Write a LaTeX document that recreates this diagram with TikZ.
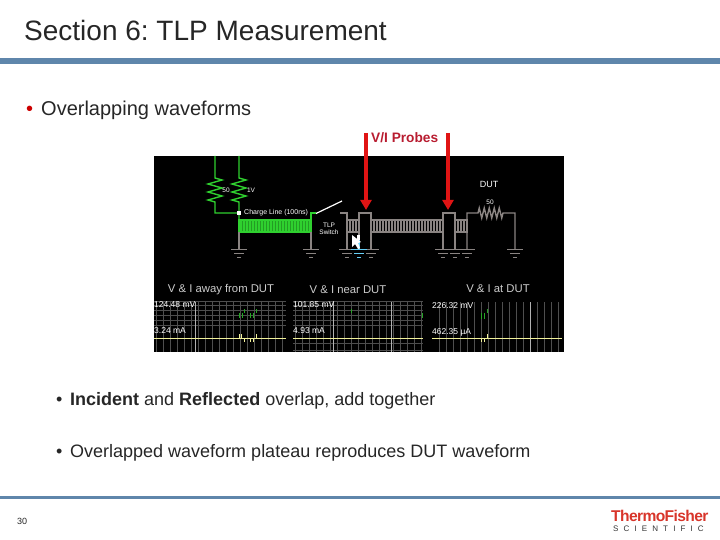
\documentclass[tikz,border=0pt]{standalone}
\usepackage{fontspec}
\setmainfont{Liberation Sans}
\usetikzlibrary{arrows.meta,decorations.pathmorphing}
\frenchspacing
\definecolor{rulecol}{HTML}{5F86AB}
\definecolor{probered}{HTML}{B81C30}
\definecolor{arrowred}{HTML}{E01414}
\definecolor{wavegreen}{HTML}{2FD02F}
\definecolor{wiregray}{HTML}{8A8482}
\definecolor{waveyellow}{HTML}{F0F09A}
\definecolor{gridgray}{HTML}{4E4E4E}
\definecolor{tfred}{HTML}{D8352A}
\tikzset{
  slidetext/.style={anchor=base west, inner sep=0pt, text=black!85},
  scopetext/.style={anchor=base west, inner sep=0pt, text=white, font=\fontsize{8.5}{9}\selectfont},
  circuittext/.style={inner sep=0pt, text=white, align=center, font=\fontsize{6.5}{7.5}\selectfont},
  paneltitle/.style={inner sep=0pt, text=black!20, font=\fontsize{11.3}{12}\selectfont},
  greenwire/.style={draw=wavegreen, line width=1.4pt},
  graywire/.style={draw=wiregray, line width=1.4pt},
  gridline/.style={draw=gridgray, line width=0.8pt},
  brightline/.style={draw=black!30, line width=1pt},
  yellowline/.style={draw=waveyellow, line width=1pt},
  greenmark/.style={draw=wavegreen!80!black, line width=1pt},
  probe/.style={draw=arrowred, line width=3.6pt, -{Triangle[length=10pt,width=11pt]}},
  pics/ground/.default=wiregray,
  pics/ground/.style={code={
    \draw[draw=#1, line width=1pt] (-8,0) -- (8,0);
    \draw[draw=#1, line width=0.9pt] (-5,4) -- (5,4);
    \draw[draw=#1, line width=1pt] (-2,8) -- (2,8);
  }}
}
\begin{document}
\begin{tikzpicture}[x=1pt,y=-1pt]
  \useasboundingbox (0,0) rectangle (720,540);
  \node[slidetext, font=\fontsize{28}{30}\selectfont] (title) at (24,41) {Section 6: TLP Measurement};
  \fill[rulecol] (0,58) rectangle (720,64);
  \fill[rulecol] (0,495.5) rectangle (720,498.5);

  \node[slidetext, text=red!80!black, font=\fontsize{20}{22}\selectfont] (bullet0) at (26,116) {•};
  \node[slidetext, font=\fontsize{20}{22}\selectfont] (overlap) at (41,116) {Overlapping waveforms};
  \node[slidetext, font=\fontsize{18}{20}\selectfont] (bullet1) at (56,405) {•};
  \node[slidetext, font=\fontsize{18}{20}\selectfont] (incident) at (70,405) {\textbf{Incident} and \textbf{Reflected} overlap, add together};
  \node[slidetext, font=\fontsize{18}{20}\selectfont] (bullet2) at (56,457) {•};
  \node[slidetext, font=\fontsize{18}{20}\selectfont] (plateau) at (70,457) {Overlapped waveform plateau reproduces DUT waveform};
  \node[slidetext, font=\fontsize{9}{10}\selectfont] (pagenum) at (17,524) {30};

  \fill[black] (154,156) rectangle (564,352);

  \fill[wavegreen!75!black] (239,220) rectangle (311,232);
  \foreach \x in {241,244,...,310} \draw[wavegreen, line width=1.6pt] (\x,220) -- (\x,232);
  \draw[greenwire] (239,220) rectangle (311,232);
  \foreach \x in {350,353,356} \draw[wiregray, line width=1.5pt] (\x,220) -- (\x,232);
  \draw[graywire] (347,220) rectangle (359,232);
  \foreach \x in {374,377,...,442} \draw[wiregray, line width=1.5pt] (\x,220) -- (\x,232);
  \draw[graywire] (371,220) rectangle (443,232);
  \foreach \x in {458,461,464} \draw[wiregray, line width=1.5pt] (\x,220) -- (\x,232);
  \draw[graywire] (455,220) rectangle (467,232);

  \draw[greenwire] (215,156) -- (215,178) decorate[decoration={zigzag,segment length=8pt,amplitude=7pt}] {-- (215,202)} -- (215,213) -- (239,213);
  \draw[greenwire] (239,156) -- (239,178) decorate[decoration={zigzag,segment length=8pt,amplitude=7pt}] {-- (239,202)} -- (239,220);
  \draw[greenwire] (311,220) -- (311,213) -- (316,213);
  \draw[white, line width=1.2pt] (316,213.5) -- (342,201);
  \fill[white] (237,211) rectangle (241,215);

  \draw[graywire] (340,213) -- (347,213) -- (347,220);
  \draw[graywire] (359,249) -- (359,213) -- (371,213) -- (371,249);
  \draw[graywire] (443,249) -- (443,213) -- (455,213) -- (455,249);
  \draw[graywire] (467,249) -- (467,213) -- (478,213)
    decorate[decoration={zigzag,segment length=5pt,amplitude=5pt}] {-- (504,213)} -- (515,213) -- (515,249);
  \draw[graywire] (239,232) -- (239,249);
  \draw[graywire] (311,232) -- (311,249);
  \draw[graywire] (347,232) -- (347,249);
  \foreach \x in {239,311,347,371,443,455,467,515} \pic at (\x,249) {ground};
  \pic at (359,249) {ground={cyan!60!white}};
  \draw[cyan!60!white, line width=1.4pt] (359,238) -- (359,249);
  \fill[white] (352,235) -- (352,247) -- (355,244) -- (358,249) -- (360,248) -- (358,243) -- (361,242) -- cycle;
  \fill[white] (357,235) rectangle (360,240);

  \node[circuittext] (r50) at (226,190) {50};
  \node[circuittext] (v1) at (251,190) {1V};
  \node[circuittext, anchor=west, font=\fontsize{7}{8}\selectfont] (chargeline) at (244,213) {Charge Line (100ns)};
  \node[circuittext] (tlpswitch) at (329,229) {TLP\\Switch};
  \node[circuittext, font=\fontsize{9}{10}\selectfont] (dut) at (489,184) {DUT};
  \node[circuittext] (rdut) at (490,202) {50};

  \foreach \x in {156.5,163.5,...,286} \draw[gridline] (\x,302) -- (\x,352);
  \foreach \x in {295.5,302.5,...,423} \draw[gridline] (\x,302) -- (\x,352);
  \foreach \x in {439.5,446.5,...,562} \draw[gridline] (\x,302) -- (\x,352);
  \foreach \y in {301.5,305.5,310.5,315.5,320.5,325.5} {
    \draw[gridline] (154,\y) -- (286,\y);
    \draw[gridline] (293,\y) -- (423,\y);
  }
  \foreach \y in {343.5,350.5} \draw[gridline] (293,\y) -- (423,\y);
  \foreach \x in {195.5,333.5,391.5,530.5} \draw[brightline] (\x,302) -- (\x,352);
  \draw[yellowline] (154,338.5) -- (286,338.5);
  \draw[yellowline] (293,338.5) -- (423,338.5);
  \draw[yellowline] (432,338.5) -- (562,338.5);
  \foreach \x in {239.5,242.5,250.5,253.5} \draw[greenmark] (\x,313) -- (\x,318);
  \foreach \x in {244.5,256.5} \draw[greenmark] (\x,309) -- (\x,313);
  \foreach \x in {239.5,241.5,256.5} \draw[yellowline] (\x,334) -- (\x,338);
  \foreach \x in {244.5,250.5,253.5} \draw[yellowline] (\x,338) -- (\x,342);
  \draw[greenmark] (351.5,309) -- (351.5,313);
  \draw[greenmark] (422.5,313) -- (422.5,318);
  \foreach \x in {481.5,484.5} \draw[greenmark] (\x,313) -- (\x,319);
  \draw[greenmark] (487.5,309) -- (487.5,313);
  \foreach \x in {481.5,484.5} \draw[yellowline] (\x,338) -- (\x,342);
  \draw[yellowline] (487.5,334) -- (487.5,338);

  \node[paneltitle] (away) at (221,290) {V \& I away from DUT};
  \node[paneltitle] (near) at (348,290) {V \& I near DUT};
  \node[paneltitle] (atdut) at (498,289) {V \& I at DUT};
  \node[scopetext] (v1val) at (154,307) {124.48 mV};
  \node[scopetext] (i1val) at (154,333) {3.24 mA};
  \node[scopetext] (v2val) at (293,307) {101.85 mV};
  \node[scopetext] (i2val) at (293,333) {4.93 mA};
  \node[scopetext] (v3val) at (432,308) {226.32 mV};
  \node[scopetext] (i3val) at (432,334) {462.35 µA};

  \coordinate (probeA) at (366,133);
  \coordinate (probeAend) at (366,210);
  \coordinate (probeB) at (448,133);
  \coordinate (probeBend) at (448,210);
  \draw[probe] (probeA) -- (probeAend);
  \draw[probe] (probeB) -- (probeBend);
  \node[slidetext, text=probered, font=\bfseries\fontsize{13.7}{15}\selectfont] (probes) at (371,143) {V/I Probes};

  \node[slidetext, text=tfred, font=\bfseries\fontsize{15.6}{17}\selectfont] (thermo) at (611,521.5) {\addfontfeature{LetterSpace=-4}ThermoFisher};
  \node[slidetext, text=black!80, font=\fontsize{8}{9}\selectfont] (scientific) at (613,531) {\addfontfeature{LetterSpace=64}SCIENTIFIC};
\end{tikzpicture}
\end{document}
